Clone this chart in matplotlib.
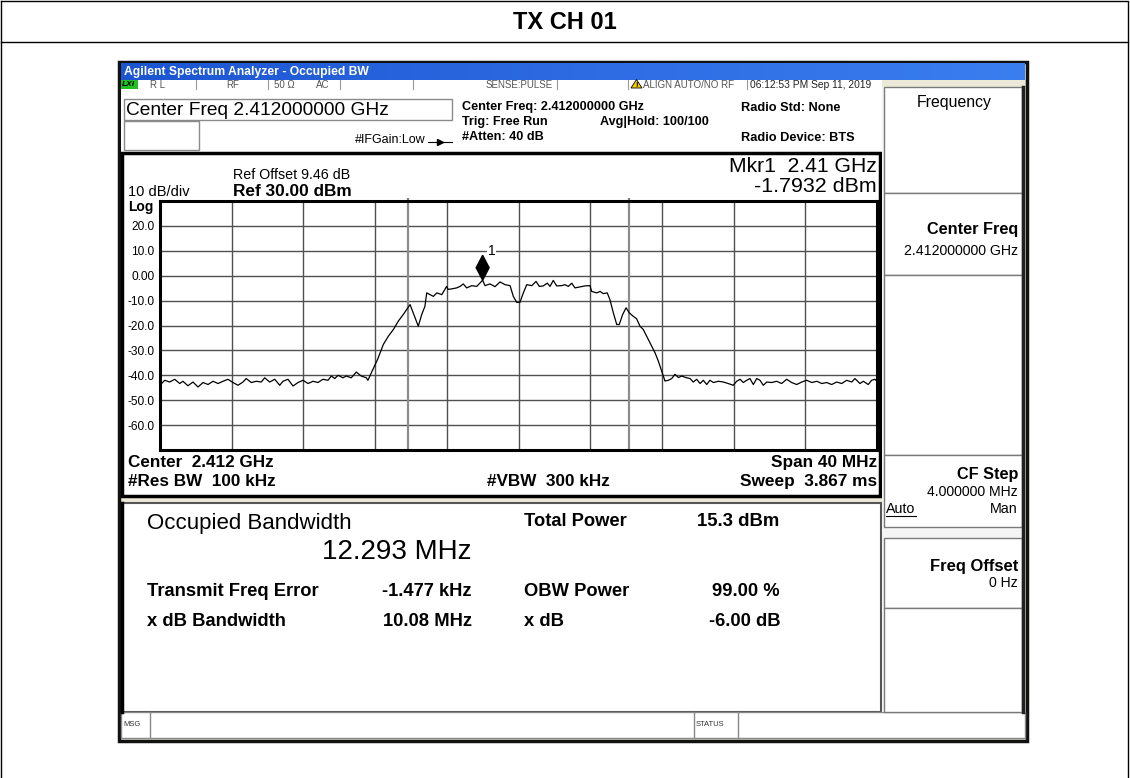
import numpy as np
import matplotlib
matplotlib.use("Agg")
import matplotlib.pyplot as plt
from matplotlib.patches import Rectangle, Polygon

plt.rcParams['font.family'] = ['Liberation Sans', 'DejaVu Sans']

# ---- data ----
center_ghz = 2.412
span_mhz = 40
ref_level = 30.0
db_per_div = 10
y_tick_values = [20, 10, 0, -10, -20, -30, -40, -50, -60]
y_tick_labels = ['20.0', '10.0', '0.00', '-10.0', '-20.0', '-30.0', '-40.0', '-50.0', '-60.0']

# trace: frequency offset from center (MHz) and level (dBm)
trace_freq = [
    -20.00, -19.74, -19.46, -19.18, -18.90, -18.72, -18.44, -18.16, -17.88, -17.60,
    -17.32, -17.04, -16.76, -16.49, -16.21, -15.93, -15.65, -15.37, -15.19, -14.91,
    -14.63, -14.35, -14.16, -13.88, -13.60, -13.32, -13.14, -12.86, -12.58, -12.30,
    -12.02, -11.74, -11.46, -11.19, -10.91, -10.63, -10.44, -10.25, -10.07, -9.79,
    -9.61, -9.33, -9.05, -8.77, -8.49, -8.40, -8.21, -7.86, -7.54, -7.26,
    -6.98, -6.71, -6.43, -6.24, -6.05, -5.77, -5.59, -5.40, -5.22, -5.12,
    -4.94, -4.75, -4.56, -4.28, -4.01, -3.93, -3.73, -3.45, -3.26, -3.08,
    -2.89, -2.61, -2.33, -2.00, -1.87, -1.59, -1.31, -1.03, -0.75, -0.47,
    -0.29, -0.10, 0.08, 0.27, 0.46, 0.74, 0.98, 1.16, 1.38, 1.61,
    1.76, 1.94, 2.13, 2.41, 2.59, 2.78, 2.97, 3.15, 3.43, 3.71,
    3.99, 4.08, 4.36, 4.55, 4.73, 4.95, 5.10, 5.29, 5.48, 5.62,
    5.81, 6.00, 6.18, 6.40, 6.59, 6.78, 6.96, 7.15, 7.43, 7.62,
    7.80, 7.99, 8.08, 8.17, 8.36, 8.55, 8.73, 8.92, 9.10, 9.38,
    9.57, 9.75, 9.94, 10.13, 10.31, 10.50, 10.68, 10.87, 11.15, 11.43,
    11.70, 11.98, 12.17, 12.36, 12.54, 12.73, 12.91, 13.10, 13.29, 13.47,
    13.66, 13.85, 14.13, 14.40, 14.68, 14.96, 15.24, 15.52, 15.80, 16.08,
    16.36, 16.64, 16.92, 17.19, 17.47, 17.75, 18.03, 18.31, 18.59, 18.77,
    19.05, 19.24, 19.51, 19.70, 19.89, 20.00,
]
trace_dbm = [
    -44.0, -42.0, -42.7, -41.6, -43.3, -42.4, -44.2, -42.7, -44.7, -42.9,
    -43.7, -42.4, -43.3, -42.4, -41.6, -42.9, -44.0, -42.7, -41.3, -42.9,
    -42.4, -42.7, -41.0, -42.7, -41.6, -44.0, -42.4, -41.6, -44.3, -42.9,
    -42.0, -43.3, -42.4, -42.9, -41.6, -42.0, -40.3, -41.3, -40.0, -41.0,
    -40.3, -41.0, -38.7, -40.3, -41.0, -42.0, -39.0, -33.6, -27.6, -24.3,
    -21.6, -18.3, -15.6, -13.6, -11.6, -16.9, -20.3, -15.6, -12.3, -6.9,
    -7.6, -8.3, -6.9, -7.6, -4.3, -5.5, -5.3, -4.9, -4.3, -3.3,
    -4.9, -4.0, -4.3, -1.79, -4.0, -3.3, -4.4, -2.5, -3.6, -4.0,
    -8.3, -10.7, -10.7, -6.9, -3.6, -4.0, -2.3, -4.3, -4.1, -3.0,
    -4.3, -1.9, -4.1, -4.0, -3.6, -4.3, -3.0, -4.9, -4.5, -4.1,
    -4.0, -6.3, -6.9, -6.3, -7.2, -6.9, -9.6, -14.9, -19.6, -19.6,
    -15.6, -12.9, -14.9, -16.3, -17.3, -20.3, -21.6, -24.3, -28.3, -31.0,
    -34.3, -38.3, -40.3, -42.3, -42.0, -41.3, -39.6, -40.9, -40.3, -41.0,
    -41.3, -42.7, -41.6, -43.3, -42.0, -43.7, -42.0, -42.9, -42.4, -42.7,
    -43.3, -44.0, -42.4, -41.6, -42.9, -42.0, -41.3, -43.7, -41.3, -42.0,
    -44.0, -42.7, -42.9, -42.4, -43.3, -41.6, -42.9, -43.7, -42.7, -42.0,
    -42.9, -42.4, -43.3, -42.9, -43.7, -42.7, -43.3, -42.0, -42.7, -41.3,
    -43.3, -42.4, -43.7, -42.0, -41.6, -42.5,
]
obw_edges = [-6.148, 6.145]
marker_freq = -2.00
marker_level = -1.7932

# ---- figure ----
W, H = 1130, 778
fig = plt.figure(figsize=(W / 100, H / 100), dpi=100)
bg = fig.add_axes([0, 0, 1, 1])
bg.set_xlim(0, W)
bg.set_ylim(H, 0)
bg.axis('off')


def rect(x0, y0, x1, y1, fc='white', ec='none', lw=1.0, z=1):
    bg.add_patch(Rectangle((x0, y0), x1 - x0, y1 - y0, facecolor=fc,
                           edgecolor=ec, linewidth=lw, zorder=z))


def txt(x, y, s, size=8, weight='normal', ha='left', color='black', **kw):
    bg.text(x, y, s, fontsize=size, fontweight=weight, ha=ha, va='center',
            color=color, zorder=10, **kw)


# document frame + title
bg.plot([1, 1128, 1128], [1, 1, H], color='black', lw=1)
bg.plot([1, 1], [1, H], color='black', lw=1)
bg.plot([1, 1128], [42, 42], color='black', lw=1)
txt(565, 22, 'TX CH 01', size=17, weight='bold', ha='center')

# screenshot window
rect(119, 62, 1027, 741, fc='#ece9d8', ec='#111111', lw=2.5, z=1)
grad = np.linspace(0, 1, 256).reshape(1, -1)
bg.imshow(grad, cmap=matplotlib.colors.LinearSegmentedColormap.from_list(
    'xp', ['#1c55d0', '#2d6be2', '#3a7ef0']), extent=(121, 1025, 80, 63),
    aspect='auto', zorder=2)
bg.set_xlim(0, W)
bg.set_ylim(H, 0)
txt(124, 72, 'Agilent Spectrum Analyzer - Occupied BW', size=8.7, weight='bold', color='white')

# status row
rect(121, 80, 882, 89, fc='white', ec='none', z=2)
rect(121, 80, 138, 89, fc='#20c020', ec='none', z=3)
txt(122, 84.5, 'LXI', size=6, weight='bold', style='italic')
for xv in [196, 268, 340, 413, 557, 628, 747]:
    bg.plot([xv, xv], [80, 89], color='#999999', lw=0.8, zorder=3)
status_items = [(150, 'R L'), (226, 'RF'), (274, '50 Ω'), (316, 'AC'),
                (486, 'SENSE:PULSE'), (643, 'ALIGN AUTO/NO RF')]
for xv, s in status_items:
    txt(xv, 84.5, s, size=7, color='#555555')
txt(750, 84.5, '06:12:53 PM Sep 11, 2019', size=7.4, color='#222222')
bg.add_patch(Polygon([[631, 88], [642, 88], [636.5, 79.5]], closed=True,
                     facecolor='#f5d000', edgecolor='black', lw=0.6, zorder=4))
txt(636.5, 85, '!', size=5.5, weight='bold', ha='center')

# header area
rect(121, 89, 882, 152, fc='white', z=2)
rect(124, 99, 452, 120, fc='white', ec='#8a8a8a', lw=1, z=3)
rect(124, 121, 199, 150, fc='white', ec='#8a8a8a', lw=1, z=3)
txt(126, 110, 'Center Freq 2.412000000 GHz', size=13.8)
txt(355, 140, '#IFGain:Low', size=9)
bg.plot([428, 452], [142, 142], color='black', lw=0.8, zorder=4)
bg.plot([440], [142], marker='>', color='black', ms=4, zorder=4)
for y, s in [(107, 'Center Freq: 2.412000000 GHz'), (122, 'Trig: Free Run'),
             (137, '#Atten: 40 dB')]:
    txt(462, y, s, size=9.1, weight='bold')
txt(600, 122, 'Avg|Hold: 100/100', size=9.1, weight='bold')
txt(741, 108, 'Radio Std: None', size=9.2, weight='bold')
txt(741, 138, 'Radio Device: BTS', size=9.2, weight='bold')

# graph box
rect(122, 153, 880, 496, fc='white', ec='black', lw=2.5, z=2)
txt(233, 175, 'Ref Offset 9.46 dB', size=10.3)
txt(128, 192, '10 dB/div', size=10.5)
txt(233, 191, 'Ref 30.00 dBm', size=12.4, weight='bold')
txt(128, 207, 'Log', size=10, weight='bold')
txt(877, 166, 'Mkr1  2.41 GHz', size=15.2, ha='right')
txt(877, 186, '-1.7932 dBm', size=15.4, ha='right')
txt(128, 462, 'Center  2.412 GHz', size=12.3, weight='bold')
txt(128, 481, '#Res BW  100 kHz', size=12.3, weight='bold')
txt(487, 481, '#VBW  300 kHz', size=12.3, weight='bold')
txt(877, 462, 'Span 40 MHz', size=12.4, weight='bold', ha='right')
txt(877, 481, 'Sweep  3.867 ms', size=12.4, weight='bold', ha='right')

# results panel
rect(122, 503, 881, 712, fc='white', ec='#555555', lw=1.5, z=2)
bg.plot([122, 122], [503, 712], color='black', lw=2.5, zorder=3)
txt(147, 524, 'Occupied Bandwidth', size=16)
txt(471, 552, '12.293 MHz', size=20, ha='right')
txt(524, 521, 'Total Power', size=13.2, weight='bold')
txt(697, 521, '15.3 dBm', size=13.3, weight='bold')
txt(147, 591, 'Transmit Freq Error', size=13.2, weight='bold')
txt(472, 591, '-1.477 kHz', size=13.2, weight='bold', ha='right')
txt(524, 591, 'OBW Power', size=13.2, weight='bold')
txt(780, 591, '99.00 %', size=13.2, weight='bold', ha='right')
txt(147, 622, 'x dB Bandwidth', size=13.2, weight='bold')
txt(472, 622, '10.08 MHz', size=13.2, weight='bold', ha='right')
txt(524, 622, 'x dB', size=13.2, weight='bold')
txt(781, 622, '-6.00 dB', size=13.2, weight='bold', ha='right')

# message bar
rect(121, 712, 1025, 738, fc='white', ec='#888888', lw=1, z=2)
for xv in [150, 694, 738]:
    bg.plot([xv, xv], [712, 738], color='#888888', lw=1, zorder=3)
txt(123, 725, 'MSG', size=5.5, color='#333333')
txt(696, 725, 'STATUS', size=5.5, color='#333333')

# softkey panel
rect(882, 87, 1024, 712, fc='#f4f4f4', ec='none', z=2)
bg.plot([1023, 1023], [87, 712], color='#222222', lw=2.5, zorder=4)
for (y0, y1) in [(87, 193), (193, 275), (275, 455), (455, 527), (538, 608), (608, 712)]:
    rect(884, y0, 1022, y1, fc='white', ec='#7a7a7a', lw=1, z=3)
txt(954, 102, 'Frequency', size=11.4, ha='center')
txt(1018, 229, 'Center Freq', size=11.7, weight='bold', ha='right')
txt(1018, 251, '2.412000000 GHz', size=10.2, ha='right')
txt(1018, 474, 'CF Step', size=11.7, weight='bold', ha='right')
txt(1018, 492, '4.000000 MHz', size=10.1, ha='right')
txt(886, 509, 'Auto', size=10.3)
bg.plot([886, 916], [516, 516], color='black', lw=0.8, zorder=10)
txt(1018, 509, 'Man', size=10.3, ha='right')
txt(1018, 566, 'Freq Offset', size=11.9, weight='bold', ha='right')
txt(1018, 583, '0 Hz', size=10.1, ha='right')

# ---- spectrum trace axes ----
x0, x1, y0, y1 = 160, 877, 201, 450
ax = fig.add_axes([x0 / W, 1 - y1 / H, (x1 - x0) / W, (y1 - y0) / H])
ax.set_facecolor('white')
half = span_mhz / 2
ax.set_xlim(-half, half)
ax.set_ylim(ref_level - 10 * db_per_div, ref_level)
for xv in np.arange(-half, half + 0.1, span_mhz / 10):
    ax.axvline(xv, color='#505050', lw=1.0, zorder=1)
for yv in y_tick_values:
    ax.axhline(yv, color='#505050', lw=1.0, zorder=1)
ax.vlines(obw_edges, ref_level, ref_level + 1.2, color='#808080', lw=1.6,
          clip_on=False, zorder=2)
for xv in obw_edges:
    ax.axvline(xv, color='#8c8c8c', lw=1.6, zorder=2)
ax.plot(trace_freq, trace_dbm, color='black', lw=0.9, zorder=3)

# marker diamond
mh, mw = 5.0, 0.36
ax.add_patch(Polygon([[marker_freq, marker_level],
                      [marker_freq + mw, marker_level + mh],
                      [marker_freq, marker_level + 2 * mh],
                      [marker_freq - mw, marker_level + mh]],
                     closed=True, facecolor='black', edgecolor='black', zorder=4))
ax.text(marker_freq + 0.3, marker_level + 2 * mh + 0.3, '1', fontsize=10, zorder=5,
        bbox=dict(facecolor='white', edgecolor='none', pad=0.5))

ax.set_xticks([])
ax.set_yticks(y_tick_values)
ax.set_yticklabels(y_tick_labels, fontsize=8.6)
ax.tick_params(axis='y', length=0, pad=4)
for sp in ax.spines.values():
    sp.set_linewidth(2.2)
    sp.set_color('black')

fig.savefig('out.png', dpi=100)
